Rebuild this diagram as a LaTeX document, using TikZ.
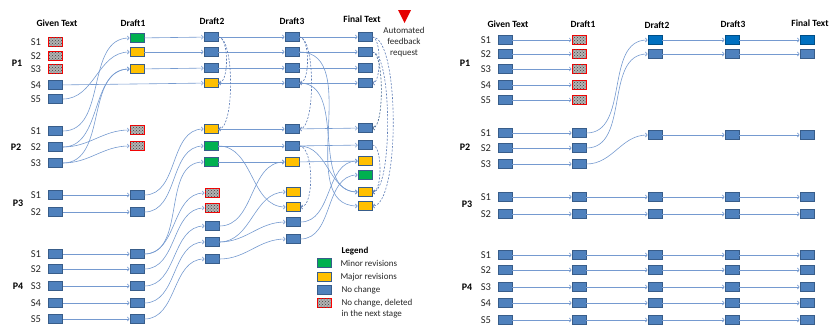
\documentclass[tikz,border=0pt]{standalone}
\usepackage{fontspec}
\setmainfont{Carlito}
\usetikzlibrary{arrows.meta,patterns}

\definecolor{boxblue}{HTML}{4F81BD}
\definecolor{boxedge}{HTML}{385D8A}
\definecolor{boxgreen}{HTML}{00B050}
\definecolor{boxyellow}{HTML}{FFC000}
\definecolor{boxdark}{HTML}{0070C0}
\definecolor{flowblue}{HTML}{759AD0}
\definecolor{backblue}{HTML}{5B7BB5}

\tikzset{
  sent/.style={draw=boxedge, line width=0.8pt, fill=boxblue,
    minimum width=14pt, minimum height=9pt, inner sep=0pt},
  minor/.style={sent, fill=boxgreen},
  major/.style={sent, fill=boxyellow},
  dropped/.style={sent, draw=red, line width=1pt, fill=gray!60,
    postaction={pattern=crosshatch dots, pattern color=gray!50!black}},
  newsent/.style={sent, fill=boxdark, draw=boxdark!70!black},
  head/.style={font=\fontsize{9.5}{11}\selectfont\bfseries},
  slabel/.style={font=\fontsize{10.5}{12}\selectfont, text=black!85},
  plabel/.style={font=\fontsize{10}{12}\selectfont\bfseries},
  legtext/.style={font=\fontsize{9}{11}\selectfont, text=black!85},
  flow/.style={draw=flowblue, line width=0.6pt, -{To[length=2.5pt,width=4.5pt]}},
  feedback/.style={draw=backblue, line width=0.6pt, dash pattern=on 2pt off 1.5pt,
    -{To[length=2.5pt,width=4.5pt]}},
}

\begin{document}
\begin{tikzpicture}[x=1pt,y=-1pt]
\useasboundingbox (0,0) rectangle (831,327);

% ---------- left: headings
\node[head] (lhg) at (57,23) {Given Text};
\node[head] (lha) at (133,23) {Draft1};
\node[head] (lhb) at (212,21) {Draft2};
\node[head] (lhc) at (292,21) {Draft3};
\node[head] (lhf) at (362,19) {Final Text};
\node[plabel] (lp1) at (17,63) {P1};
\node[plabel] (lp2) at (16,147) {P2};
\node[plabel] (lp3) at (18,203) {P3};
\node[plabel] (lp4) at (18,286) {P4};
\foreach \n/\y/\s in {11/42/1,12/56/2,13/69/3,14/85/4,15/99/5,21/131/1,22/147/2,
  23/163/3,31/195/1,32/212/2,41/254/1,42/269/2,43/286/3,44/303/4,45/319/5}
  \node[slabel] (ls\n) at (36,\y) {S\s};

% ---------- left: given text
\node[dropped] (g11) at (55.5,42) {};
\node[dropped] (g12) at (55.5,56) {};
\node[dropped] (g13) at (55.5,69) {};
\node[sent] (g14) at (55.5,85) {};
\node[sent] (g15) at (55.5,99) {};
\node[sent] (g21) at (55.5,131) {};
\node[sent] (g22) at (55.5,147) {};
\node[sent] (g23) at (55.5,163) {};
\node[sent] (g31) at (55.5,195) {};
\node[sent] (g32) at (55.5,212) {};
\node[sent] (g41) at (55.5,254) {};
\node[sent] (g42) at (55.5,269) {};
\node[sent] (g43) at (55.5,286) {};
\node[sent] (g44) at (55.5,303) {};
\node[sent] (g45) at (55.5,319) {};

% ---------- left: draft1
\node[minor] (a1) at (137,38) {};
\node[major] (a2) at (137,52) {};
\node[major] (a3) at (137,69) {};
\node[dropped] (a4) at (137,130) {};
\node[dropped] (a5) at (137,146) {};
\node[sent] (a6) at (137,195) {};
\node[sent] (a7) at (137,212) {};
\node[sent] (a8) at (137,254) {};
\node[sent] (a9) at (137,269) {};
\node[sent] (a10) at (137,286) {};
\node[sent] (a11) at (137,303) {};
\node[sent] (a12) at (137,319) {};

% ---------- left: draft2
\node[sent] (b1) at (211,37) {};
\node[sent] (b2) at (211,52) {};
\node[sent] (b3) at (211,68) {};
\node[major] (b4) at (211,83) {};
\node[major] (b5) at (211,129) {};
\node[minor] (b6) at (211,146) {};
\node[minor] (b7) at (211,162) {};
\node[dropped] (b8) at (212,193) {};
\node[dropped] (b9) at (212,208) {};
\node[sent] (b10) at (212,226) {};
\node[sent] (b11) at (212,242) {};
\node[sent] (b12) at (212,259) {};

% ---------- left: draft3
\node[sent] (c1) at (292,37) {};
\node[sent] (c2) at (292,52) {};
\node[sent] (c3) at (292,68) {};
\node[sent] (c4) at (292,83) {};
\node[sent] (c5) at (292,129) {};
\node[sent] (c6) at (292,146) {};
\node[major] (c7) at (292,162) {};
\node[major] (c8) at (293,192) {};
\node[major] (c9) at (293,207) {};
\node[sent] (c10) at (293,222) {};
\node[sent] (c11) at (293,239) {};

% ---------- left: final text
\node[sent] (f1) at (365,37) {};
\node[sent] (f2) at (365,52) {};
\node[sent] (f3) at (365,68) {};
\node[sent] (f4) at (365,83) {};
\node[sent] (f5) at (365,128) {};
\node[sent] (f6) at (365,145) {};
\node[major] (f7) at (365,161) {};
\node[minor] (f8) at (365,175) {};
\node[major] (f9) at (365,192) {};
\node[major] (f10) at (365,206) {};

% given -> draft1
\draw[flow] (g14) -- (b4);
\draw[flow] (g15) to[out=0,in=180] (a2);
\draw[flow] (g21) to[out=0,in=180] (a1);
\draw[flow] (g22) to[out=0,in=180] (a3);
\draw[flow] (g23) to[out=0,in=180] (a3);
\draw[flow] (g22) to[out=0,in=180] (a4);
\draw[flow] (g23) to[out=0,in=180] (a5);
\draw[flow] (g31) -- (a6);
\draw[flow] (g32) -- (a7);
\draw[flow] (g41) -- (a8);
\draw[flow] (g42) -- (a9);
\draw[flow] (g43) -- (a10);
\draw[flow] (g44) -- (a11);
\draw[flow] (g45) -- (a12);

% draft1 -> draft2
\draw[flow] (a1) -- (b1);
\draw[flow] (a2) -- (b2);
\draw[flow] (a3) -- (b3);
\draw[flow] (a6) to[out=0,in=180] (b5);
\draw[flow] (a7) to[out=0,in=180] (b6);
\draw[flow] (a8) to[out=0,in=180] (b7);
\draw[flow] (a8) to[out=0,in=180] (b8);
\draw[flow] (a9) to[out=0,in=180] (b9);
\draw[flow] (a10) to[out=0,in=180] (b10);
\draw[flow] (a11) to[out=0,in=180] (b11);
\draw[flow] (a12) to[out=0,in=180] (b12);

% draft2 -> draft3
\draw[flow] (b1) -- (c1);
\draw[flow] (b2) -- (c2);
\draw[flow] (b3) -- (c3);
\draw[flow] (b4) -- (c4);
\draw[flow] (b5) -- (c5);
\draw[flow] (b6) -- (c6);
\draw[flow] (b7) -- (c7);
\draw[flow] (b6) to[out=0,in=180] (c9);
\draw[flow] (b10) to[out=0,in=180] (c7);
\draw[flow] (b11) to[out=0,in=180] (c8);
\draw[flow] (b11) to[out=0,in=180] (c10);
\draw[flow] (b12) to[out=0,in=180] (c11);

% draft3 -> final
\draw[flow] (c1) -- (f1);
\draw[flow] (c2) -- (f2);
\draw[flow] (c3) -- (f3);
\draw[flow] (c4) -- (f4);
\draw[flow] (c5) -- (f5);
\draw[flow] (c6) -- (f6);
\draw[flow] (c7) -- (f7);
\draw[flow] (c2) to[out=0,in=180] (f10);
\draw[flow] (c4) to[out=0,in=180] (f9);
\draw[flow] (c6) to[out=0,in=180] (f9);
\draw[flow] (c10) to[out=0,in=180] (f7);
\draw[flow] (c11) to[out=0,in=180] (f8);

% automated feedback
\draw[feedback] (b1) to[out=0,in=0,looseness=0.6] (b4);
\draw[feedback] (b1) to[out=0,in=0,looseness=0.45] (b5);
\draw[feedback] (c1) to[out=0,in=0,looseness=0.6] (c4);
\draw[feedback] (c1) to[out=0,in=0,looseness=0.45] (c5);
\draw[feedback] (c6) to[out=0,in=0,looseness=0.6] (c9);
\draw[feedback] (f1) to[out=0,in=0,looseness=0.5] (f4);
\draw[feedback, draw=boxedge] (f2) to[out=0,in=0,looseness=0.4] (f5);
\draw[feedback] (f2) to[out=0,in=0,looseness=0.37] (f9);
\draw[feedback] (f1) to[out=0,in=0,looseness=0.42] (f10);
\draw[feedback] (f6) to[out=0,in=0,looseness=0.55] (f9);
\fill[red!90!black] (398,10) -- (411,10) -- (404.5,23) -- cycle;
\node[legtext, align=center] (fbnote) at (404,42) {Automated\\feedback\\request};

% legend
\node[font=\fontsize{9}{11}\selectfont\bfseries] (lgtitle) at (355,251) {Legend};
\node[minor] (lgk1) at (324,263) {};
\node[major] (lgk2) at (324,277) {};
\node[sent] (lgk3) at (324,290) {};
\node[dropped] (lgk4) at (324,303) {};
\node[legtext, anchor=west] (lgt1) at (337,263) {Minor revisions};
\node[legtext, anchor=west] (lgt2) at (337,277) {Major revisions};
\node[legtext, anchor=west] (lgt3) at (338,290) {No change};
\node[legtext, anchor=west, align=left] (lgt4) at (338,308.5) {No change, deleted\\in the next stage};

% ---------- right: headings
\node[head] (rhg) at (508,24) {Given Text};
\node[head] (rha) at (583,24) {Draft1};
\node[head] (rhb) at (657,25) {Draft2};
\node[head] (rhc) at (733,24) {Draft3};
\node[head] (rhf) at (810,23) {Final Text};
\node[plabel] (rp1) at (465,63) {P1};
\node[plabel] (rp2) at (465,147) {P2};
\node[plabel] (rp3) at (467,204) {P3};
\node[plabel] (rp4) at (467,287) {P4};
\foreach \n/\y/\s in {11/40/1,12/54/2,13/69/3,14/85/4,15/100/5,21/133/1,22/148/2,
  23/164/3,31/197/1,32/214/2,41/255/1,42/270/2,43/287/3,44/303/4,45/320/5}
  \node[slabel] (rs\n) at (486,\y) {S\s};

% right: P1, all dropped in draft1
\foreach \n/\y in {11/40,12/54,13/69,14/85,15/100} {
  \node[sent] (rg\n) at (505,\y) {};
  \node[dropped] (ra\n) at (579,\y) {};
  \draw[flow] (rg\n) -- (ra\n);
}

% right: P2
\foreach \n/\y in {21/133,22/148,23/164} {
  \node[sent] (rg\n) at (505,\y) {};
  \node[sent] (ra\n) at (579,\y) {};
  \draw[flow] (rg\n) -- (ra\n);
}
\node[newsent] (rb1) at (655,40) {};
\node[sent] (rb2) at (655,54) {};
\node[sent] (rb3) at (655,135) {};
\node[newsent] (rc1) at (732,40) {};
\node[sent] (rc2) at (732,54) {};
\node[sent] (rc3) at (732,135) {};
\node[newsent] (rf1) at (807,40) {};
\node[sent] (rf2) at (807,54) {};
\node[sent] (rf3) at (807,135) {};
\draw[flow] (ra21) to[out=0,in=180] (rb1);
\draw[flow] (ra22) to[out=0,in=180] (rb2);
\draw[flow] (ra23) to[out=0,in=180] (rb3);
\draw[flow] (rb1) -- (rc1);
\draw[flow] (rb2) -- (rc2);
\draw[flow] (rb3) -- (rc3);
\draw[flow] (rc1) -- (rf1);
\draw[flow] (rc2) -- (rf2);
\draw[flow] (rc3) -- (rf3);

% right: P3 and P4 unchanged
\foreach \n/\y in {31/197,32/214,41/255,42/270,43/287,44/303,45/320} {
  \node[sent] (rg\n) at (505,\y) {};
  \node[sent] (ra\n) at (579,\y) {};
  \node[sent] (rb\n) at (655,\y) {};
  \node[sent] (rc\n) at (732,\y) {};
  \node[sent] (rf\n) at (807,\y) {};
  \draw[flow] (rg\n) -- (ra\n);
  \draw[flow] (ra\n) -- (rb\n);
  \draw[flow] (rb\n) -- (rc\n);
  \draw[flow] (rc\n) -- (rf\n);
}
\end{tikzpicture}
\end{document}
